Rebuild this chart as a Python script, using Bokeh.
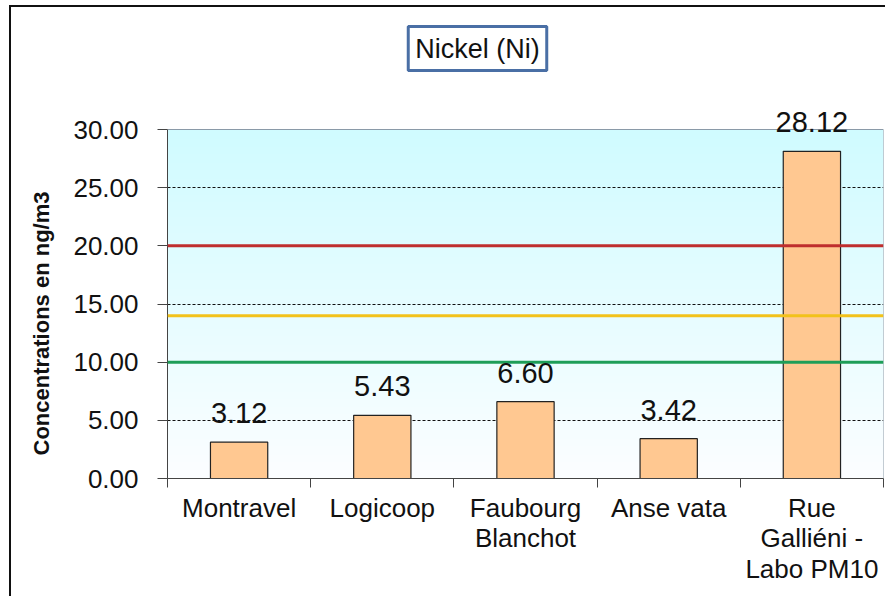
import numpy as np
from bokeh.plotting import figure
from bokeh.models import (ColumnDataSource, Range1d, FixedTicker, NumeralTickFormatter,
                          Span, Label, LabelSet, Title)
from bokeh.core.properties import value
from bokeh.embed import file_html
from bokeh.resources import INLINE

# ---- data ----
sites = ["Montravel", "Logicoop", "Faubourg\nBlanchot", "Anse vata", "Rue\nGalliéni -\nLabo PM10"]
concentrations = [3.12, 5.43, 6.60, 3.42, 28.12]
thresholds = [20, 14, 10]
threshold_colors = ["#BF2E2E", "#F2C21B", "#1E9E58"]
y_ticks = [0, 5, 10, 15, 20, 25, 30]
grid_ticks = [5, 15, 25]
y_max = 30
title_text = "Nickel (Ni)"
y_label = "Concentrations en ng/m3"

FONT = "'Liberation Sans', Arial, sans-serif"

positions = list(range(1, len(sites) + 1))
x_lo, x_hi = 0.5, len(sites) + 0.5
src = ColumnDataSource(dict(
    x=positions,
    top=concentrations,
    lbl=[f"{v:.2f}" for v in concentrations],
))

# frame runs up to the top of the figure so that texts above the value axis are not clipped
FIG_H = 591
BOTTOM = 120
AXIS_PX = 349  # pixel height of 0..y_max
y_end = y_max * (FIG_H - BOTTOM) / AXIS_PX

p = figure(width=876, height=FIG_H, output_backend="svg", toolbar_location=None,
           x_range=Range1d(x_lo, x_hi), y_range=Range1d(0, y_end),
           min_border_left=156, min_border_right=4, min_border_top=0, min_border_bottom=BOTTOM)
p.styles = {"border-left": "2px solid #111111", "border-top": "2px solid #111111",
            "margin-left": "9px", "margin-top": "5px"}
p.background_fill_color = "white"
p.border_fill_color = "white"
p.outline_line_color = None

# gradient background of plot area
n = 200
frac = np.linspace(0, 1, n)  # 0 bottom -> 1 top
top_c = np.array([208, 251, 255])
bot_c = np.array([252, 254, 255])
img = np.empty((n, 1), dtype=np.uint32)
view = img.view(dtype=np.uint8).reshape((n, 1, 4))
for i, f in enumerate(frac):
    c = bot_c + (top_c - bot_c) * f
    view[i, 0, 0] = int(c[0]); view[i, 0, 1] = int(c[1]); view[i, 0, 2] = int(c[2]); view[i, 0, 3] = 255
bg = p.image_rgba(image=[img], x=x_lo, y=0, dw=x_hi - x_lo, dh=y_max)
bg.level = "image"

# grid
p.xgrid.visible = False
p.ygrid.ticker = FixedTicker(ticks=grid_ticks)
p.ygrid.grid_line_color = "#111111"
p.ygrid.grid_line_dash = "3 2"
p.ygrid.grid_line_width = 1

# plot-area outline (top and right)
p.segment(x0=[x_lo, x_hi], y0=[y_max, 0], x1=[x_hi, x_hi], y1=[y_max, y_max],
          line_color="#8a9aa8", line_width=1)

# bars
p.vbar(x="x", top="top", width=0.4, bottom=0, source=src,
       fill_color="#FFC891", line_color="#222222", line_width=1.2)

# threshold lines
for t, c in zip(thresholds, threshold_colors):
    p.add_layout(Span(location=t, dimension="width", line_color=c, line_width=3))

# value labels
p.add_layout(LabelSet(x="x", y="top", text="lbl", source=src, text_align="center",
                      text_baseline="alphabetic", y_offset=19,
                      text_font=value(FONT), text_font_size="29px", text_color="#111111"))

# y axis
yax = p.yaxis[0]
yax.bounds = (0, y_max)
yax.ticker = FixedTicker(ticks=y_ticks)
yax.formatter = NumeralTickFormatter(format="0.00")
yax.major_tick_out = 10
yax.major_tick_in = 0
yax.minor_tick_out = 0
yax.minor_tick_in = 0
yax.axis_line_color = "#444444"
yax.major_tick_line_color = "#444444"
yax.major_label_standoff = 19
yax.major_label_text_font = FONT
yax.major_label_text_font_size = "26px"
yax.major_label_text_color = "#111111"

# y axis title, aligned along the 0..30 part of the axis
ytitle = Title(text=y_label, align="left", offset=23, standoff=30, vertical_align="top",
               text_font=FONT, text_font_size="22px", text_font_style="bold",
               text_color="#111111")
p.add_layout(ytitle, "left")

# x axis
xax = p.xaxis[0]
xax.ticker = FixedTicker(ticks=positions, minor_ticks=[v - 0.5 for v in positions] + [x_hi])
xax.major_label_overrides = {pos: s for pos, s in zip(positions, sites)}
xax.major_tick_out = 0
xax.major_tick_in = 0
xax.minor_tick_out = 9
xax.minor_tick_in = 0
xax.minor_tick_line_color = "#444444"
xax.axis_line_color = "#444444"
xax.major_label_standoff = 5
xax.major_label_text_font = FONT
xax.major_label_text_font_size = "26px"
xax.major_label_text_color = "#111111"
xax.major_label_text_line_height = 1.02

# title box (screen units are relative to the frame's bottom-left corner)
p.add_layout(Label(x=310, y=430, x_units="screen", y_units="screen", text=title_text,
                   text_align="center", text_baseline="middle",
                   text_font=FONT, text_font_size="27px", text_color="#111111",
                   background_fill_color="white", border_line_color="#4A6FA5",
                   border_line_width=3, padding=7))

open("out.html", "w").write(file_html(p, INLINE))
